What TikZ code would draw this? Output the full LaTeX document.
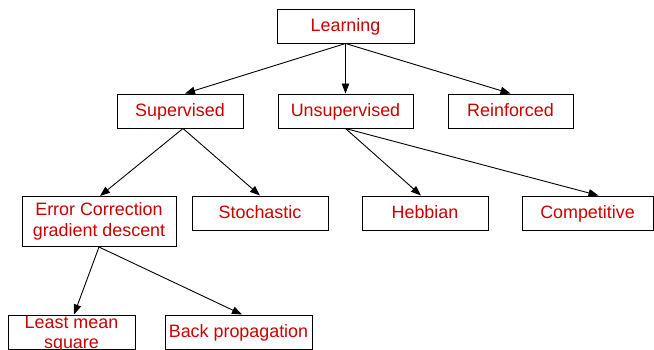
\documentclass[tikz,border=0pt]{standalone}
\usepackage{fontspec}
\setmainfont{Liberation Sans}
\usetikzlibrary{arrows.meta}
\definecolor{txtred}{RGB}{204,0,0}
\tikzset{
  box/.style={draw=black, line width=1pt, rectangle, inner sep=0pt, minimum height=34pt,
    text=txtred, font=\fontsize{17.9}{20.5}\selectfont, align=center},
  sbox/.style={box, text height=14pt, text depth=3pt},
  lbl/.style={inner sep=0pt, text=txtred, font=\fontsize{17.9}{20.5}\selectfont, align=center},
  arr/.style={draw=black, line width=0.9pt, -{Triangle[length=10pt,width=7.5pt]}}
}
\begin{document}
\begin{tikzpicture}[x=1pt,y=-1pt]
\useasboundingbox (0,0) rectangle (654,349);
\clip (0,0) rectangle (654,349);
\fill[white] (0,0) rectangle (654,349);
\node[sbox, minimum width=137pt] (learn) at (345.5,26) {Learning};
\node[sbox, minimum width=126pt] (sup) at (180,111) {Supervised};
\node[sbox, minimum width=135pt] (unsup) at (345.5,111) {Unsupervised};
\node[sbox, minimum width=125pt] (reinf) at (510.5,111) {Reinforced};
\node[box, minimum width=154pt, minimum height=50pt] (err) at (99,221.5) {Error Correction\\gradient descent};
\node[sbox, minimum width=136pt] (stoch) at (260,213) {Stochastic};
\node[sbox, minimum width=126pt] (hebb) at (425,213) {Hebbian};
\node[sbox, minimum width=131pt] (comp) at (587.5,213) {Competitive};
\node[box, minimum width=127pt] (lms) at (71.5,332) {};
\node[lbl, anchor=north] (lmstxt) at (71.5,315.5) {Least mean\\square};
\node[sbox, minimum width=147pt] (bp) at (238.5,332) {Back propagation};
\draw[arr] (learn.south) -- ([xshift=5pt]sup.north);
\draw[arr] (learn.south) -- (unsup.north);
\draw[arr] (learn.south) -- (reinf.north);
\draw[arr] ([xshift=3pt]sup.south) -- ([xshift=1pt]err.north);
\draw[arr] ([xshift=3pt]sup.south) -- (stoch.north);
\draw[arr] (unsup.south) -- ([xshift=-4pt]hebb.north);
\draw[arr] (unsup.south) -- ([xshift=11pt]comp.north);
\draw[arr] (err.south) -- ([xshift=2.5pt]lms.north);
\draw[arr] (err.south) -- ([xshift=3.5pt]bp.north);
\end{tikzpicture}
\end{document}
